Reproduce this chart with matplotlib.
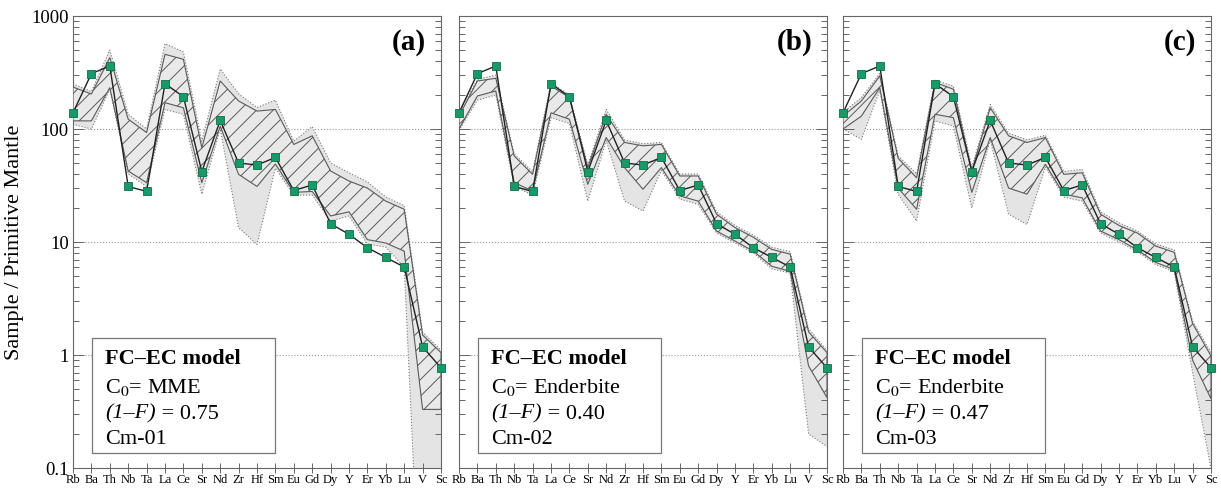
import numpy as np
import matplotlib
matplotlib.use('Agg')
import matplotlib.pyplot as plt
from matplotlib.patches import Rectangle
from matplotlib.ticker import FixedLocator, FixedFormatter, LogLocator, NullFormatter

plt.rcParams['font.family'] = ['Liberation Serif', 'DejaVu Serif']
plt.rcParams['mathtext.fontset'] = 'stix'
plt.rcParams['hatch.linewidth'] = 0.7

# Elements (x axis) and measured sample
elements = ['Rb', 'Ba', 'Th', 'Nb', 'Ta', 'La', 'Ce', 'Sr', 'Nd', 'Zr', 'Hf',
            'Sm', 'Eu', 'Gd', 'Dy', 'Y', 'Er', 'Yb', 'Lu', 'V', 'Sc']
sample = [139, 309, 361, 31, 28, 252, 193, 42, 119, 50, 48,
          56, 28.5, 32, 14.5, 11.7, 8.9, 7.3, 6.0, 1.18, 0.77]

# Panel (a)
a_hatch_hi = [235, 204, 428, 122, 93, 458, 414, 68, 266, 177, 144,
              149, 73, 87, 42.5, 34.6, 30, 23, 19.5, 1.5, 1.05]
a_hatch_lo = [118, 118, 232, 42.5, 33.5, 171, 154, 33.5, 106, 39.7, 31,
              49, 27.5, 28, 17, 18.5, 10.5, 9.8, 8.3, 0.33, 0.33]
a_outer_hi = [250, 215, 500, 135, 100, 570, 480, 78, 340, 205, 155,
              180, 78, 105, 50, 41, 34, 25, 21, 1.6, 1.1]
a_outer_lo = [110, 100, 225, 40, 31, 149, 135, 26.5, 100, 13.4, 9.5,
              45, 26, 26, 15.3, 17, 9.6, 9, 6, 0.002, 0.002]

# Panel (b)
b_hatch_hi = [130, 266, 281, 57.7, 39.7, 240, 190, 45.5, 135, 76, 71,
              73, 38.4, 38.4, 17.6, 13.4, 11, 8.6, 7.8, 1.6, 1.05]
b_hatch_lo = [100, 196, 217, 33.5, 28.3, 139, 122, 32.4, 84, 45.5, 29.3,
              45.5, 25.6, 23, 12.5, 10.2, 8.3, 6.1, 5.5, 0.8, 0.42]
b_outer_hi = [140, 275, 300, 60, 42, 255, 200, 48, 149, 80, 74,
              76, 40, 40, 18.5, 14, 11.5, 9, 8.2, 1.7, 1.1]
b_outer_lo = [97, 180, 200, 31, 26, 126, 112, 23, 79, 23, 18.8,
              43, 24, 21.5, 12, 9.8, 8, 5.8, 5.3, 0.2, 0.155]

# Panel (c)
c_hatch_hi = [130, 177, 295, 55, 37, 258, 225, 42.5, 154, 87, 76,
              84, 39.7, 41, 17.6, 14, 12, 9.2, 8.1, 1.9, 0.98]
c_hatch_lo = [100, 130, 232, 30, 19.5, 135, 126, 27.5, 84, 30, 26.5,
              48.7, 26.5, 24.6, 12.5, 10.5, 8.5, 6.6, 5.7, 0.9, 0.41]
c_outer_hi = [140, 190, 310, 58, 40, 270, 240, 46, 165, 92, 80,
              88, 42, 44, 18.5, 14.8, 12.5, 9.6, 8.5, 2.0, 1.05]
c_outer_lo = [100, 81, 220, 26.5, 15.3, 118, 106, 20, 80, 17.6, 14.3,
              46, 25, 23, 12, 10, 8.2, 6.3, 5.5, 0.7, 0.1]

panel_labels = ['(a)', '(b)', '(c)']
c0_names = ['MME', 'Enderbite', 'Enderbite']
f_values = ['0.75', '0.40', '0.47']
sample_names = ['Cm-01', 'Cm-02', 'Cm-03']

bands = [(a_outer_lo, a_outer_hi, a_hatch_lo, a_hatch_hi),
         (b_outer_lo, b_outer_hi, b_hatch_lo, b_hatch_hi),
         (c_outer_lo, c_outer_hi, c_hatch_lo, c_hatch_hi)]

fig = plt.figure(figsize=(12.21, 4.9), dpi=100)
lefts = [73, 459, 843]
x = np.arange(len(elements))
fs_box = 16

for i in range(3):
    ax = fig.add_axes([lefts[i] / 1221, 22 / 490, 368 / 1221, 452 / 490])
    olo, ohi, hlo, hhi = bands[i]

    # outer (dotted) envelope
    ax.fill_between(x, olo, ohi, facecolor='#e4e4e4', edgecolor='none', zorder=1)
    ax.plot(x, olo, color='#777777', lw=0.8, ls=':', zorder=2)
    ax.plot(x, ohi, color='#777777', lw=0.8, ls=':', zorder=2)

    # hatched envelope
    ax.fill_between(x, hlo, hhi, facecolor='#e9e9e9', edgecolor='#5a5a5a',
                    hatch='//', lw=0.8, zorder=3)

    # sample
    ax.plot(x, sample, color='#222222', lw=1.0, marker='s', ms=5.5,
            mfc='#179a68', mec='#0f6e48', mew=0.6, zorder=5, clip_on=False)

    ax.set_yscale('log')
    ax.set_ylim(0.1, 1000)
    ax.set_xlim(0, len(elements) - 1)

    for yv in [1, 10, 100]:
        ax.axhline(yv, color='#999999', lw=0.8, ls=':', zorder=0.5)

    ax.set_xticks(x)
    ax.set_xticklabels(elements, fontsize=9)
    ax.tick_params(axis='x', direction='inout', length=7, width=0.7, pad=1,
                   color='#666666')
    ax.yaxis.set_major_locator(FixedLocator([0.1, 1, 10, 100, 1000]))
    ax.yaxis.set_minor_locator(LogLocator(base=10, subs=np.arange(2, 10)))
    ax.yaxis.set_minor_formatter(NullFormatter())
    ax.tick_params(axis='y', which='both', direction='in', left=True, right=True,
                   color='#666666', width=0.7)
    ax.tick_params(axis='y', which='major', length=8)
    ax.tick_params(axis='y', which='minor', length=4.5)
    if i == 0:
        ax.yaxis.set_major_formatter(FixedFormatter(['0.1', '1', '10', '100', '1000']))
        ax.tick_params(axis='y', labelsize=13.5, pad=3)
        ax.set_ylabel('Sample / Primitive Mantle', fontsize=16, labelpad=5)
    else:
        ax.tick_params(axis='y', labelleft=False)

    for sp in ax.spines.values():
        sp.set_color('#666666')
        sp.set_linewidth(0.8)

    ax.text(0.96, 0.942, panel_labels[i], transform=ax.transAxes, ha='right',
            va='center', fontsize=21, fontweight='bold', zorder=6)

    # model box
    ax.add_patch(Rectangle((0.052, 0.033), 0.497, 0.255, transform=ax.transAxes,
                           facecolor='white', edgecolor='#777777', lw=0.9, zorder=6))
    tx = 0.087
    ax.text(tx, 0.23, 'FC–EC model', transform=ax.transAxes, fontsize=fs_box,
            fontweight='bold', va='baseline', zorder=7)
    ax.text(tx, 0.166, 'C$_{0}$= ' + c0_names[i], transform=ax.transAxes,
            fontsize=fs_box, va='baseline', zorder=7)
    t = ax.text(tx, 0.109, '(1–F)', transform=ax.transAxes, fontsize=fs_box,
                style='italic', va='baseline', zorder=7)
    ax.annotate(' = ' + f_values[i], xy=(1, 0), xycoords=t, va='bottom',
                fontsize=fs_box, zorder=7)
    ax.text(tx, 0.054, sample_names[i], transform=ax.transAxes, fontsize=fs_box,
            va='baseline', zorder=7)

fig.savefig('out.png', dpi=100)
